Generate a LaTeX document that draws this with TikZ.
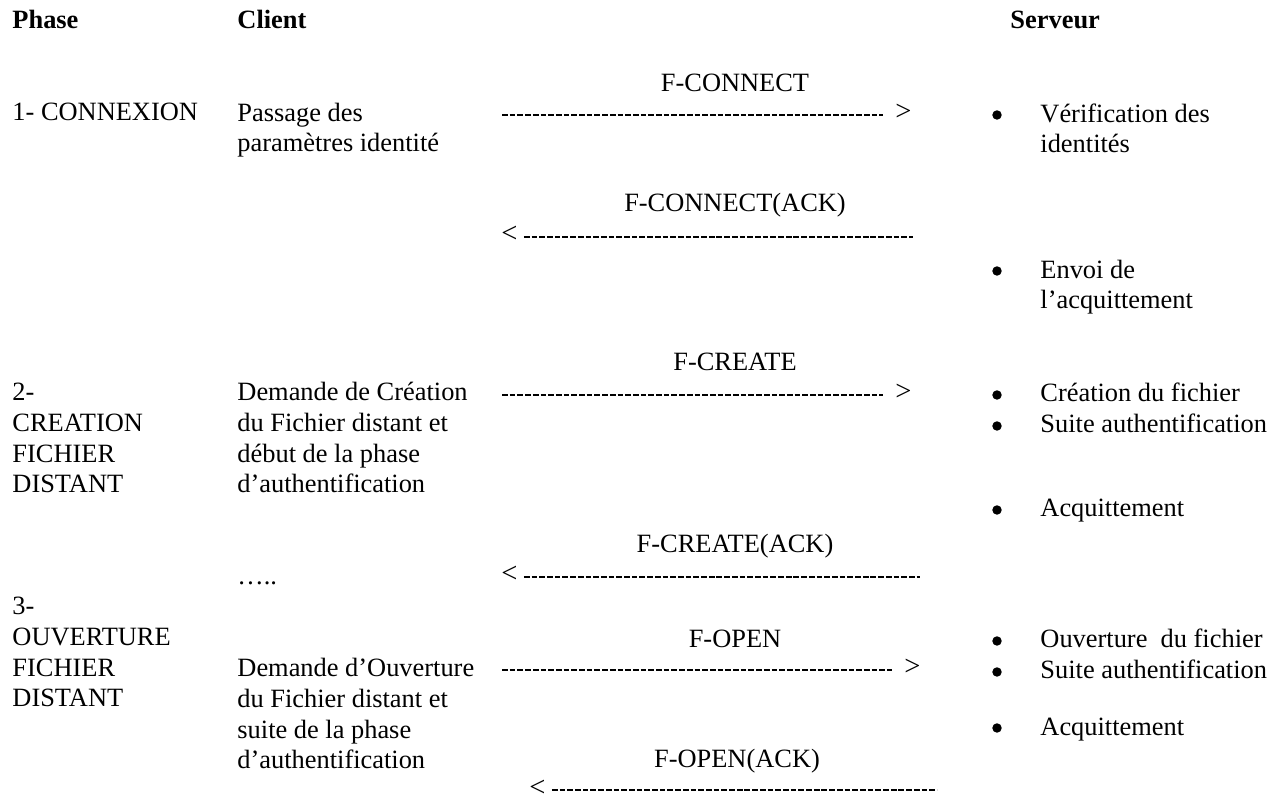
\documentclass[tikz,border=0pt]{standalone}
\usepackage{fontspec}
\setmainfont{Liberation Serif}
\usetikzlibrary{calc}

\begin{document}
\begin{tikzpicture}[
    x=0.4545pt, y=-0.4545pt,
    every node/.style={font=\fontsize{12}{14}\selectfont, inner sep=0pt},
    txt/.style={anchor=base west, align=left},
    head/.style={txt, font=\fontsize{12}{14}\selectfont\bfseries},
    msg/.style={anchor=base},
    tip/.style={anchor=base west, font=\fontsize{13}{14}\selectfont},
    bul/.style={circle, fill, minimum size=4.3pt},
    hyph/.style={line width=0.9pt, dash pattern=on 2.6pt off 0.9pt}]
  \useasboundingbox (0,0) rectangle (1275,798);
  % --- en-tetes des colonnes ---
  \node[head] (hphase)   at (12,29)   {Phase};
  \node[head] (hclient)  at (237,29)  {Client};
  \node[head] (hserveur) at (1010,29) {Serveur};

  % --- colonne Phase (base = derniere ligne) ---
  \node[txt] (ph1) at (12,121) {1- CONNEXION};
  \node[txt] (ph2) at (12,493) {2-\\CREATION\\FICHIER\\DISTANT};
  \node[txt] (ph3) at (12,707) {3-\\OUVERTURE\\FICHIER\\DISTANT};

  % --- colonne Client ---
  \node[txt] (cl1) at (237,152) {Passage des\\paramètres identité};
  \node[txt] (cl2) at (237,493) {Demande de Création\\du Fichier distant et\\début de la phase\\d’authentification};
  \node[txt] (cl3) at (237,585) {…..};
  \node[txt] (cl4) at (237,769) {Demande d’Ouverture\\du Fichier distant et\\suite de la phase\\d’authentification};

  % --- colonne Serveur ---
  \node[bul] (b1) at (997,115) {};
  \node[txt] (sv1) at (1040,153) {Vérification des\\identités};
  \node[bul] (b2) at (997,271) {};
  \node[txt] (sv2) at (1040,309) {Envoi de\\l’acquittement};
  \node[bul] (b3) at (997,395) {};
  \node[txt] (sv3) at (1040,402) {Création du fichier};
  \node[bul] (b4) at (997,426) {};
  \node[txt] (sv4) at (1040,433) {Suite authentification};
  \node[bul] (b5) at (997,510) {};
  \node[txt] (sv5) at (1040,517) {Acquittement};
  \node[bul] (b6) at (997,641) {};
  \node[txt] (sv6) at (1040,648) {Ouverture\ \ du fichier};
  \node[bul] (b7) at (997,672) {};
  \node[txt] (sv7) at (1040,679) {Suite authentification};
  \node[bul] (b8) at (997,728) {};
  \node[txt] (sv8) at (1040,735) {Acquittement};

  % --- messages client -> serveur ---
  \node[msg] (m1) at (735,92) {F-CONNECT};
  \coordinate (m1s) at (502,115);
  \node[tip] (m1t) at (895,121) {>};
  \draw[hyph, shorten >=5.5pt] (m1s) -- (m1s -| m1t.west);

  \node[msg] (m3) at (735,371) {F-CREATE};
  \coordinate (m3s) at (502,395);
  \node[tip] (m3t) at (895,401) {>};
  \draw[hyph, shorten >=5.5pt] (m3s) -- (m3s -| m3t.west);

  \node[msg] (m5) at (735,648) {F-OPEN};
  \coordinate (m5s) at (502,670);
  \node[tip] (m5t) at (904,676) {>};
  \draw[hyph, shorten >=5.5pt] (m5s) -- (m5s -| m5t.west);

  % --- acquittements serveur -> client ---
  \node[msg] (m2) at (735,212) {F-CONNECT(ACK)};
  \node[tip] (m2t) at (501,243) {<};
  \coordinate (m2e) at (913,237);
  \draw[hyph, shorten <=2.7pt] (m2t.east |- m2e) -- (m2e);

  \node[msg] (m4) at (735,553) {F-CREATE(ACK)};
  \node[tip] (m4t) at (501,583) {<};
  \coordinate (m4e) at (920,577);
  \draw[hyph, shorten <=2.7pt] (m4t.east |- m4e) -- (m4e);

  \node[msg] (m6) at (737,768) {F-OPEN(ACK)};
  \node[tip] (m6t) at (529,796) {<};
  \coordinate (m6e) at (937,790);
  \draw[hyph, shorten <=2.7pt] (m6t.east |- m6e) -- (m6e);
\end{tikzpicture}
\end{document}
